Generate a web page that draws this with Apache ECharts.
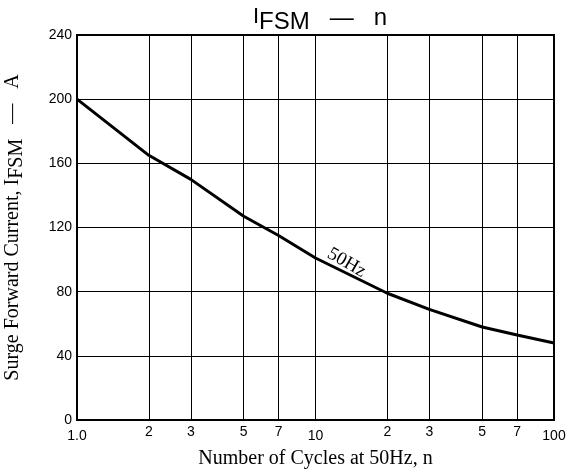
<!DOCTYPE html>
<html>
<head>
<meta charset="utf-8">
<script src="https://cdn.jsdelivr.net/npm/echarts@6/dist/echarts.min.js"></script>
<style>
  html, body { margin: 0; padding: 0; background: #fff; }
  #chart { width: 566px; height: 469px; }
</style>
</head>
<body>
<div id="chart"></div>
<script>
// number of cycles n and surge current (A)
const cycles = [1, 2, 3, 5, 7, 10, 20, 30, 50, 70, 100]
const surgeCurrent = [200, 165, 150, 127, 115, 101, 79, 69, 58, 53, 48]

// vertical grid lines and their labels
const gridCycles = [2, 3, 5, 7, 10, 20, 30, 50, 70]
const gridLabels = ['2', '3', '5', '7', '', '2', '3', '5', '7']

const yTicks = [0, 40, 80, 120, 160, 200, 240]

const chart = echarts.init(document.getElementById('chart'))

chart.setOption({
  animation: false,
  backgroundColor: '#fff',
  title: {
    text: '{a|I}{b|FSM}{c|   —   n}',
    left: 315,
    textAlign: 'center',
    top: 1,
    textStyle: {
      rich: {
        a: { fontFamily: 'Liberation Sans', fontWeight: 'normal', fontSize: 22, color: '#000', verticalAlign: 'top', lineHeight: 28, padding: [0, 0, 6, 0] },
        b: { fontFamily: 'Liberation Sans', fontWeight: 'normal', fontSize: 24, color: '#000', verticalAlign: 'bottom', lineHeight: 28, padding: [8, 0, 0, 0] },
        c: { fontFamily: 'Liberation Sans', fontWeight: 'normal', fontSize: 24, color: '#000', verticalAlign: 'top', lineHeight: 28, padding: [0, 0, 4, 0] }
      }
    }
  },
  grid: {
    left: 77, right: 12, top: 35, bottom: 49,
    outerBoundsMode: 'none',
    containLabel: false,
    show: true,
    borderColor: '#000',
    borderWidth: 2
  },
  xAxis: {
    type: 'log',
    logBase: 10,
    min: 1,
    max: 100,
    name: 'Number of Cycles at 50Hz, n',
    nameLocation: 'middle',
    nameGap: 29,
    nameTextStyle: { fontFamily: 'Liberation Serif', fontSize: 20, color: '#000' },
    axisLine: { lineStyle: { color: '#000', width: 2 } },
    axisTick: { show: false },
    splitLine: { show: false },
    axisLabel: {
      margin: 9,
      fontFamily: 'Liberation Sans',
      fontSize: 14,
      color: '#000',
      formatter: v => (v === 1 ? '1.0' : String(v))
    }
  },
  yAxis: {
    type: 'value',
    min: yTicks[0],
    max: yTicks[yTicks.length - 1],
    interval: 40,
    name: 'Surge Forward Current, I{s|FSM}   —   A',
    nameLocation: 'middle',
    nameGap: 50,
    nameTextStyle: {
      fontFamily: 'Liberation Serif', fontSize: 20, color: '#000',
      rich: { s: { fontFamily: 'Liberation Serif', fontSize: 20, color: '#000', padding: [9, 0, 0, 0] } }
    },
    axisLine: { lineStyle: { color: '#000', width: 2 } },
    axisTick: { show: false },
    splitLine: { lineStyle: { color: '#000', width: 1 } },
    axisLabel: { margin: 5, fontFamily: 'Liberation Sans', fontSize: 14, color: '#000' }
  },
  series: [
    {
      type: 'line',
      data: cycles.map((n, i) => [n, surgeCurrent[i]]),
      smooth: false,
      showSymbol: false,
      z: 5,
      lineStyle: { color: '#000', width: 3 },
      markLine: {
        silent: true,
        symbol: 'none',
        lineStyle: { color: '#000', width: 1, type: 'solid' },
        label: {
          position: 'start',
          distance: 5,
          fontFamily: 'Liberation Sans',
          fontSize: 14,
          color: '#000'
        },
        data: gridCycles.map((n, i) => ({ xAxis: n, label: { formatter: gridLabels[i] } }))
      },
      markPoint: {
        silent: true,
        symbol: 'circle',
        symbolSize: 1,
        itemStyle: { color: 'rgba(0,0,0,0)' },
        label: {
          show: true,
          position: 'inside',
          formatter: '50Hz',
          rotate: -30,
          fontFamily: 'Liberation Serif',
          fontSize: 19,
          color: '#000'
        },
        data: [{ coord: [13.5, 98] }]
      }
    }
  ]
})
</script>
</body>
</html>
